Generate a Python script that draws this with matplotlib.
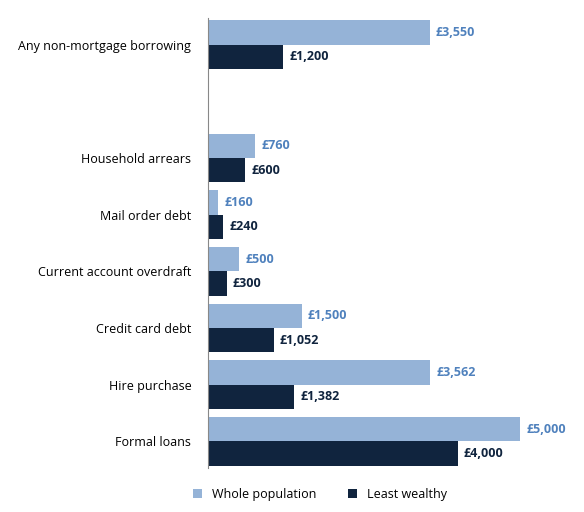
import matplotlib.pyplot as plt
import numpy as np

categories = ["Formal loans", "Hire purchase", "Credit card debt", "Current account overdraft",
              "Mail order debt", "Household arrears", "", "Any non-mortgage borrowing"]
whole_population = [5000, 3562, 1500, 500, 160, 760, None, 3550]
least_wealthy = [4000, 1382, 1052, 300, 240, 600, None, 1200]

light = "#95B3D7"
dark = "#10243E"
plt.rcParams['font.family'] = ['Open Sans', 'DejaVu Sans']

fig = plt.figure(figsize=(5.84, 5.12), dpi=100)
ax = fig.add_axes([208 / 584, 44 / 512, 362 / 584, 450 / 512])

y = np.arange(len(categories))
h = 0.43
for i in range(len(categories)):
    w, l = whole_population[i], least_wealthy[i]
    if w is None:
        continue
    ax.barh(y[i] + h / 2, w, height=h, color=light, label="Whole population" if i == 0 else None)
    ax.barh(y[i] - h / 2, l, height=h, color=dark, label="Least wealthy" if i == 0 else None)
    ax.text(w + 100, y[i] + h / 2, f"£{w:,}", va="center", ha="left", fontsize=9,
            fontweight="bold", color="#4F81BD")
    ax.text(l + 100, y[i] - h / 2, f"£{l:,}", va="center", ha="left", fontsize=9,
            fontweight="bold", color=dark)

ax.set_xlim(0, 5800)
ax.set_ylim(-0.47, 7.47)
ax.set_yticks(y)
ax.set_yticklabels(categories, fontsize=9)
ax.tick_params(axis="y", length=0, pad=12)
ax.set_xticks([])
for s in ["top", "right", "bottom"]:
    ax.spines[s].set_visible(False)
ax.spines["left"].set_color("#888888")

fig.legend(loc="lower center", bbox_to_anchor=(320 / 584, 0.0), ncol=2, frameon=False,
           fontsize=9, handlelength=0.7, handleheight=0.7, columnspacing=2.5)

fig.savefig("out.png", dpi=100)
